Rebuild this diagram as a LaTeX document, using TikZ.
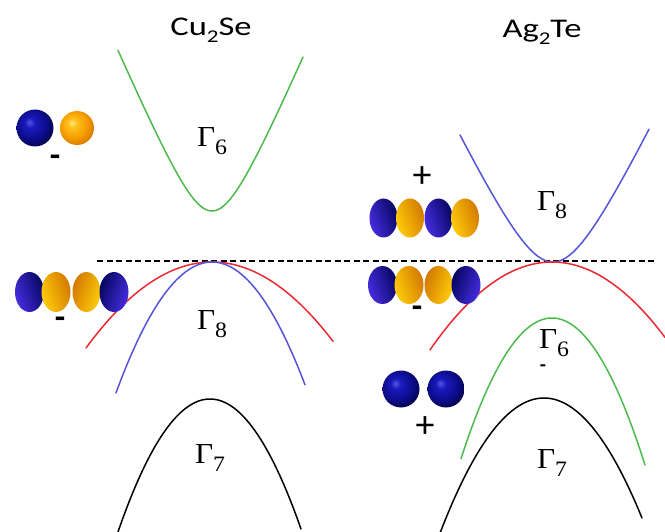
\documentclass[tikz,border=0pt]{standalone}
\usepackage{fontspec}
\setmainfont{Carlito}
\newfontfamily\gfont{Liberation Serif}

% shaded atoms
\pgfdeclareradialshading{blueball}{\pgfpoint{-8bp}{8bp}}{%
  color(0bp)=(rgb,255:red,85;green,85;blue,225);
  color(7bp)=(rgb,255:red,25;green,25;blue,190);
  color(20bp)=(rgb,255:red,12;green,12;blue,140);
  color(28bp)=(rgb,255:red,5;green,5;blue,85);
  color(50bp)=(rgb,255:red,5;green,5;blue,85)}
\pgfdeclareradialshading{orangeball}{\pgfpoint{-8bp}{8bp}}{%
  color(0bp)=(rgb,255:red,255;green,235;blue,150);
  color(6bp)=(rgb,255:red,255;green,195;blue,30);
  color(20bp)=(rgb,255:red,245;green,155;blue,0);
  color(28bp)=(rgb,255:red,220;green,125;blue,0);
  color(50bp)=(rgb,255:red,220;green,125;blue,0)}

\definecolor{bandgreen}{RGB}{76,187,76}
\definecolor{bandred}{RGB}{236,40,50}
\definecolor{bandblue}{RGB}{85,85,215}
\definecolor{lobeblueL}{RGB}{70,45,225}
\definecolor{lobeblueD}{RGB}{5,5,95}
\definecolor{lobeyel}{RGB}{255,205,10}
\definecolor{lobeorg}{RGB}{210,120,0}

% band symbol with its index
\newcommand{\gam}[1]{{\gfont\fontsize{29}{30}\selectfont Γ\raisebox{-0.3em}{\fontsize{22}{22}\selectfont #1}}}

\begin{document}
\begin{tikzpicture}[x=1pt,y=-1pt,
  band/.style={line width=1.5pt, line join=round, line cap=round},
  title/.style={font=\fontsize{27}{30}\selectfont, xscale=1.28},
  gamlab/.style={inner sep=0pt, xscale=1.08},
  sgn/.style={font=\fontsize{38}{40}\selectfont, inner sep=0pt},
  dsh/.style={font=\fontsize{34}{40}\selectfont\bfseries, inner sep=0pt},
  lobeB/.style={left color=lobeblueL, right color=lobeblueD, shading angle=110},
  lobeBm/.style={left color=lobeblueD, right color=lobeblueL, shading angle=70},
  lobeO/.style={left color=lobeyel, right color=lobeorg, shading angle=110},
  lobeOm/.style={left color=lobeorg, right color=lobeyel, shading angle=70}]
\useasboundingbox (0,0) rectangle (665,532);

% titles
\node[title] (tcu) at (211,30) {Cu\raisebox{-0.25em}{\fontsize{18}{18}\selectfont 2}Se};
\node[title] (tag) at (542,32) {Ag\raisebox{-0.25em}{\fontsize{18}{18}\selectfont 2}Te};

% Fermi level
\coordinate (fermiL) at (97,261);
\coordinate (fermiR) at (656,261);
\draw[line width=1.1pt, dash pattern=on 6pt off 3.5pt] (fermiL) -- (fermiR);

% Cu2Se bands
\draw[band, bandgreen] plot[domain=-94:91, samples=90, smooth]
  ({212+\x},{211-2.34*(sqrt(900+\x*\x)-30)});
\draw[band, bandred] plot[domain=-126:121, samples=90, smooth]
  ({212+\x},{262+0.00542*\x*\x});
\draw[band, bandblue] plot[domain=-96:93, samples=90, smooth]
  ({212+\x},{262+0.0142*\x*\x});
\draw[band, black] plot[domain=-93:91, samples=90, smooth]
  ({210+\x},{399+0.0157*\x*\x});

% Ag2Te bands
\draw[band, bandblue] plot[domain=-93:96, samples=90, smooth]
  ({553+\x},{262-2.075*(sqrt(1600+\x*\x)-40)});
\draw[band, bandred] plot[domain=-122:113, samples=90, smooth]
  ({552+\x},{262+0.0059*\x*\x});
\draw[band, bandgreen] plot[domain=-91:93, samples=90, smooth]
  ({552+\x},{318+0.017*\x*\x});
\draw[band, black] plot[domain=-108:98, samples=90, smooth]
  ({544+\x},{398+0.0125*\x*\x});

% band labels
\node[gamlab] (g6l) at (212,141) {\gam{6}};
\node[gamlab] (g8l) at (212,324) {\gam{8}};
\node[gamlab] (g7l) at (210,458) {\gam{7}};
\node[gamlab] (g8r) at (552,205) {\gam{8}};
\node[gamlab] (g6r) at (554,343) {\gam{6}};
\node[gamlab] (g7r) at (552,463) {\gam{7}};

% s-like pair, Cu2Se conduction band
\shade[shading=blueball] (35,128) circle (18.5);
\shade[shading=orangeball] (77,128) circle (17);
\node[dsh] (m1) at (55,161) {-};

% p-like lobes, Cu2Se valence band
\shade[lobeB]  (29.5,292) ellipse (14.5 and 20);
\shade[lobeO]  (56,292) ellipse (14.5 and 20);
\shade[lobeOm] (86.5,292) ellipse (14 and 20);
\shade[lobeBm] (114,292) ellipse (14.5 and 20);
\node[dsh] (m2) at (60,323) {-};

% p-like lobes above Fermi level, Ag2Te
\node[sgn] (p1) at (422,177) {+};
\shade[lobeB] (383.5,218) ellipse (14 and 19.5);
\shade[lobeO] (410,218) ellipse (14 and 19.5);
\shade[lobeB] (438.5,218) ellipse (14 and 19.5);
\shade[lobeO] (465,218) ellipse (14 and 19.5);

% p-like lobes below Fermi level, Ag2Te
\shade[lobeB]  (382.5,285) ellipse (14.5 and 19);
\shade[lobeO]  (409,285) ellipse (14.5 and 19);
\shade[lobeOm] (438.5,285) ellipse (14 and 19);
\shade[lobeBm] (466,285) ellipse (14.5 and 19);
\node[dsh] (m3) at (417,312) {-};

% s-like pair, Ag2Te
\shade[shading=blueball] (401,389) circle (18.5);
\shade[shading=blueball] (446,389) circle (18.5);
\node[sgn] (p2) at (425,427) {+};

% small mark under the Ag2Te Gamma_6 label
\node[font=\fontsize{20}{24}\selectfont\bfseries, inner sep=0pt] (m4) at (543,368) {-};
\end{tikzpicture}
\end{document}
